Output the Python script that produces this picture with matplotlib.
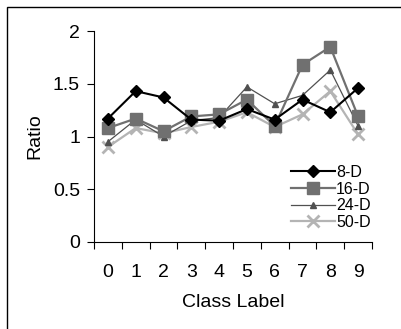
import numpy as np
import matplotlib
matplotlib.use("Agg")
import matplotlib.pyplot as plt
from matplotlib.patches import Rectangle

plt.rcParams['font.family'] = ['Liberation Sans', 'DejaVu Sans']

# data
classes = np.arange(10)
ratio_8d = [1.17, 1.43, 1.37, 1.16, 1.15, 1.26, 1.16, 1.35, 1.23, 1.46]
ratio_16d = [1.08, 1.17, 1.05, 1.19, 1.21, 1.35, 1.10, 1.68, 1.85, 1.19]
ratio_24d = [0.95, 1.16, 1.00, 1.15, 1.18, 1.47, 1.31, 1.39, 1.63, 1.10]
ratio_50d = [0.90, 1.08, 1.03, 1.09, 1.14, 1.23, 1.09, 1.21, 1.43, 1.02]

fig = plt.figure(figsize=(4.01, 3.29), dpi=100)
ax = fig.add_axes([94/401, 1-242/329, (372-94)/401, (242-31)/329])

ax.plot(classes, ratio_50d, color='#b4b4b4', lw=1.6, marker='x', ms=8, mew=2, label='50-D', zorder=2)
ax.plot(classes, ratio_24d, color='#505050', lw=0.9, marker='^', ms=5, label='24-D', zorder=3)
ax.plot(classes, ratio_16d, color='#707070', lw=1.6, marker='s', ms=8, label='16-D', zorder=4)
ax.plot(classes, ratio_8d, color='black', lw=1.5, marker='D', ms=6, label='8-D', zorder=5)

ax.set_xlim(-0.5, 9.5)
ax.set_ylim(0, 2)
ax.set_yticks([0, 0.5, 1, 1.5, 2])
ax.set_yticklabels(['0', '0.5', '1', '1.5', '2'])
ax.set_xticks(np.arange(-0.5, 10, 1))
ax.set_xticklabels([])
ax.set_xticks(classes, minor=True)
ax.set_xticklabels([str(c) for c in classes], minor=True)
ax.tick_params(axis='x', which='major', length=5, width=0.8, direction='out')
ax.tick_params(axis='x', which='minor', length=0, pad=16, labelsize=14)
ax.tick_params(axis='y', length=5, width=0.8, labelsize=14, pad=5)
for s in ['top', 'right']:
    ax.spines[s].set_visible(False)

ax.set_xlabel('Class Label', fontsize=14, labelpad=9)
ax.set_ylabel('Ratio', fontsize=14, labelpad=7)

h, l = ax.get_legend_handles_labels()
ax.legend(h[::-1], l[::-1], loc='upper left', bbox_to_anchor=(0.71, 0.365),
          frameon=False, fontsize=11.5, handlelength=2.7, labelspacing=0.1,
          handletextpad=0.1, borderpad=0, borderaxespad=0)

fig.patches.append(Rectangle((7/401, -0.1), 1.1, 1.1 - 6.5/329 + 0.0, transform=fig.transFigure,
                             fill=False, edgecolor='black', lw=1, clip_on=False))

fig.savefig('out.png', dpi=100)
